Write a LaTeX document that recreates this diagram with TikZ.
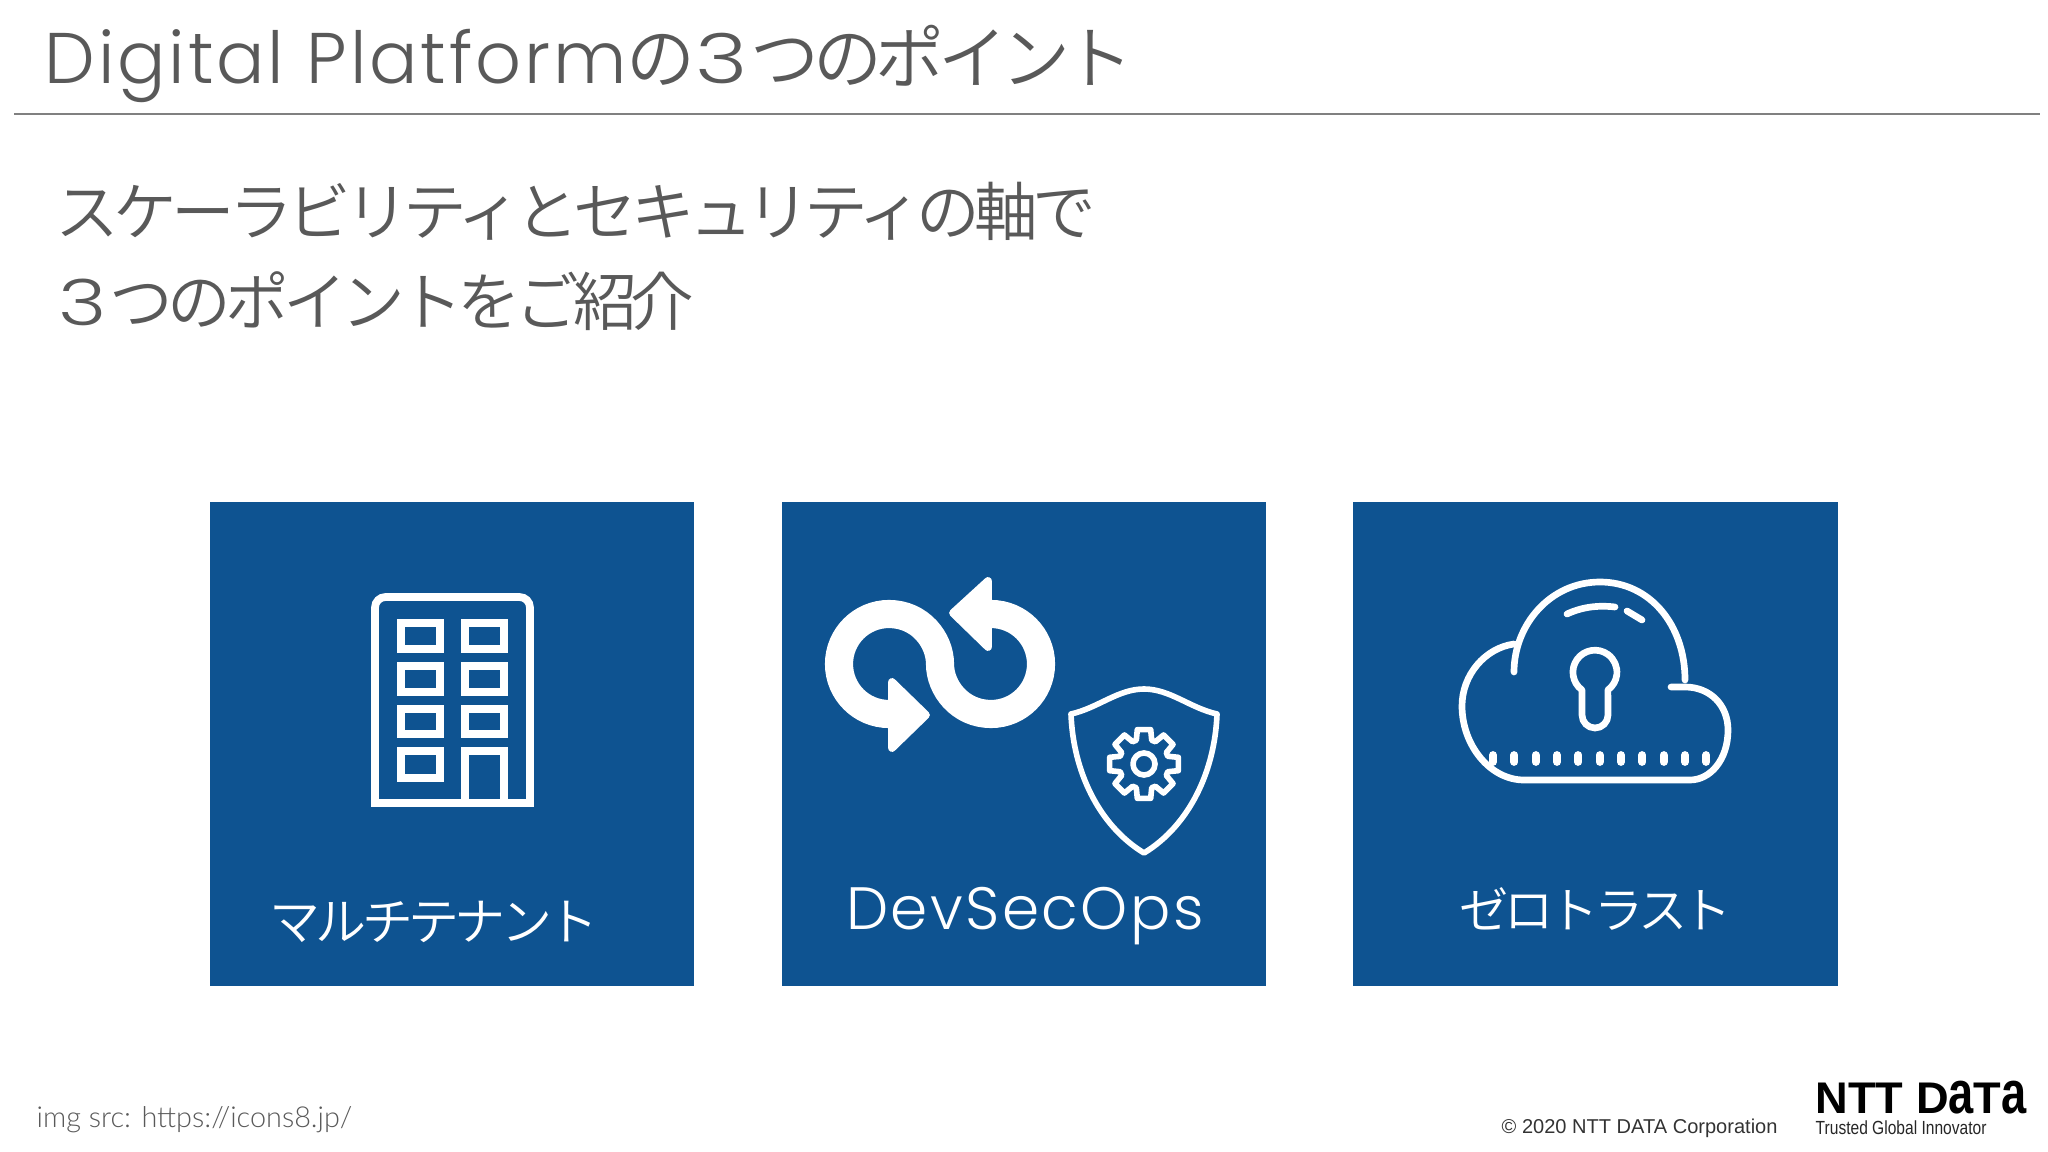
\documentclass[tikz,border=0pt]{standalone}
\usepackage{fontspec}
\usepackage{xcolor}
\usetikzlibrary{positioning}
\setmainfont{Poppins Light}
\newfontfamily\titlefont{Poppins Light}[LetterSpace=4]
\newfontfamily\latofont{Lato Light}
\newfontfamily\jpfont{Noto Sans CJK JP DemiLight}[LetterSpace=-9]
\newfontfamily\arialfont{Liberation Sans}
\newfontfamily\taglinefont{Liberation Sans}[FakeStretch=.82]
\newfontfamily\logofont{Liberation Sans}[FakeStretch=1.02]
\definecolor{cardblue}{HTML}{0E5391}
\definecolor{inkgrey}{HTML}{595959}
\definecolor{rulegrey}{HTML}{808080}
\newcommand{\tallA}{\scalebox{1}[1.36]{a}}
\newcommand{\wideThree}{\scalebox{1.3}[1]{\normalfont 3}\hspace{.04em}}

\begin{document}
\begin{tikzpicture}[x = .01cm, y = -.01cm]
\tikzstyle{card}=[fill = cardblue, minimum size = 4.84cm, inner sep = 0 pt, node distance=5.72cm]
\tikzstyle{txt}=[inner sep = 0 pt, text = inkgrey]
\tikzstyle{lbl}=[inner sep = 0 pt, text = white]
\tikzstyle{icon}=[draw = white, line width = 2.2 pt]
\tikzstyle{thin icon}=[draw = white, line width = 1.6 pt, line cap = round, line join = round]
\tikzstyle{cloud line}=[draw = white, line width = 1.9 pt, line cap = round, line join = round]
\tikzstyle{head}=[draw = white, fill = white, line width = 2.2 pt, line join = round]

\useasboundingbox (0,0) rectangle (2048,1152);

\node[txt, anchor = base west, font = \titlefont\fontsize{20.4}{24}\selectfont] (title) at (44,84) {Digital Platform{\jpfont\fontsize{19.6}{24}\selectfont の\wideThree つのポイント}};
\coordinate (ruleL) at (14,114);
\coordinate (ruleR) at (2040,114);
\draw[rulegrey, line width = .5 pt] (ruleL) -- (ruleR);

\node[txt, anchor = base west, font = \jpfont\fontsize{18.1}{20}\selectfont] (lineA) at (55,236) {スケーラビリティとセキュリティの軸で};
\node[txt, anchor = base west, font = \jpfont\fontsize{18.1}{20}\selectfont] (lineB) at (58,326) {\wideThree つのポイントをご紹介};

\node[card] (tenant) at (452,744) {};
\node[card, right of = tenant] (devsec) {};
\node[card, right of = devsec, xshift = -.3 pt] (zero) {};

\node[lbl, font = \jpfont\fontsize{14.5}{16}\selectfont] (tenantLbl) at (434,922) {マルチテナント};
\node[lbl, anchor = base, font = \titlefont\fontsize{17}{20}\selectfont] (devsecLbl) at (1025,929) {DevSecOps};
\node[lbl, font = \jpfont\fontsize{14}{16}\selectfont] (zeroLbl) at (1596,909) {ゼロトラスト};

\draw[icon] (375,803) [rounded corners = 3 pt] -- (375,597) -- (530,597) [sharp corners] -- (530,803) -- cycle;
\foreach \x in {401,465}
  \foreach \y/\h in {623/26,666/26,709/25}
    \draw[icon] (\x,\y) rectangle +(39,\h);
\draw[icon] (401,751) rectangle +(39,27);
\draw[icon] (465,803) -- (465,751) -- (504,751) -- (504,803);

\draw[draw = white, line width = 8 pt] (889,714) arc[start angle = 90, end angle = 270, radius = 50]
  .. controls (920,614) and (940,640) .. (940,664)
  .. controls (940,688) and (960,714) .. (991,714)
  arc[start angle = 90, end angle = -90, radius = 50];
\draw[head] (892,682) -- (926,715) -- (892,748) -- cycle;
\draw[head] (988,581) -- (953,613) -- (988,647) -- cycle;

\draw[thin icon] (1144,689) .. controls (1170,689) and (1190,708) .. (1217,714)
  .. controls (1215,770) and (1190,825) .. (1144,853)
  .. controls (1098,825) and (1073,770) .. (1071,714)
  .. controls (1098,708) and (1118,689) .. (1144,689) -- cycle;
\begin{scope}[shift = {(1144,764)}]
\draw[thin icon] (-18:25) \foreach \a in {0,45,...,315} { -- ({\a-18}:25) -- ({\a-11}:35) -- ({\a+11}:35) -- ({\a+18}:25)} -- cycle;
\draw[thin icon] (0,0) circle (11);
\end{scope}

\draw[cloud line] (1514,672) .. controls (1514,625) and (1550,582) .. (1600,582)
  .. controls (1650,582) and (1685,625) .. (1685,680);
\draw[cloud line] (1671,687) -- (1685,687) .. controls (1710,687) and (1728,705) .. (1728,730)
  .. controls (1728,760) and (1710,780) .. (1690,780) -- (1524,780)
  .. controls (1490,780) and (1462,745) .. (1462,706)
  .. controls (1462,675) and (1485,648) .. (1514,644);
\foreach \i in {0,...,10}
  \draw[cloud line, line width = 2.2 pt] ({1493+21.33*\i},755) -- +(0,7);
\draw[cloud line] (1567,614) .. controls (1582,607) and (1598,605) .. (1615,607);
\draw[cloud line] (1627,611) -- (1642,620);
\draw[cloud line] (1582,690) arc[start angle = 126, end angle = 414, radius = 22] -- (1608,715)
  arc[start angle = 0, end angle = 180, radius = 13] -- cycle;

\node[txt, anchor = base west, font = \latofont\fontsize{8.2}{10}\selectfont] (imgsrc) at (36,1127) {img src: https://icons8.jp/};
\node[inner sep = 0 pt, text = black!80, anchor = base west, font = \arialfont\fontsize{5.7}{7}\selectfont] (copyright) at (1501,1133) {© 2020 NTT DATA Corporation};
\node[inner sep = 0 pt, text = black, anchor = base west, font = \logofont\bfseries\fontsize{12.6}{14}\selectfont] (logo) at (1815,1113) {NTT D\tallA T\tallA};
\node[inner sep = 0 pt, text = black!85, anchor = base west, font = \taglinefont\fontsize{5.4}{7}\selectfont] (tagline) at (1815,1134) {Trusted Global Innovator};
\end{tikzpicture}
\end{document}
